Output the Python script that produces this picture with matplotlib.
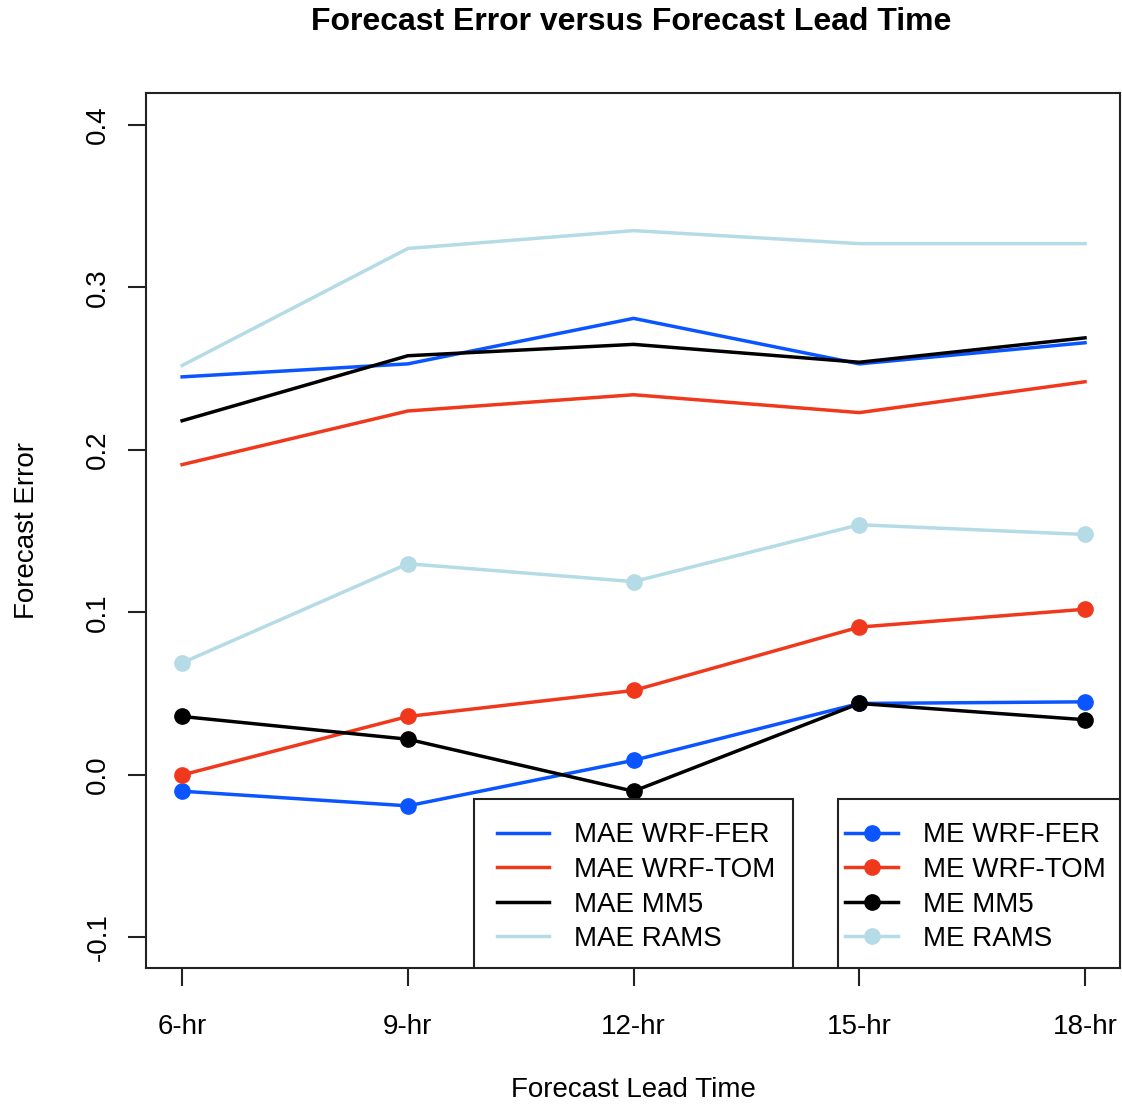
import matplotlib
matplotlib.use("Agg")
import matplotlib.pyplot as plt
from matplotlib.patches import Rectangle
import numpy as np

lead_times = ["6-hr", "9-hr", "12-hr", "15-hr", "18-hr"]
series_names = ["WRF-FER", "WRF-TOM", "MM5", "RAMS"]

mae_wrf_fer = [0.245, 0.253, 0.281, 0.253, 0.266]
mae_wrf_tom = [0.191, 0.224, 0.234, 0.223, 0.242]
mae_mm5 = [0.218, 0.258, 0.265, 0.254, 0.269]
mae_rams = [0.252, 0.324, 0.335, 0.327, 0.327]

me_wrf_fer = [-0.010, -0.019, 0.009, 0.044, 0.045]
me_wrf_tom = [0.000, 0.036, 0.052, 0.091, 0.102]
me_mm5 = [0.036, 0.022, -0.010, 0.044, 0.034]
me_rams = [0.069, 0.130, 0.119, 0.154, 0.148]

colors = ["#0a55ff", "#f0381c", "#000000", "#b4dbe6"]

plt.rcParams['font.family'] = ['Liberation Sans', 'DejaVu Sans']

W, H = 1122, 1105
fig = plt.figure(figsize=(W / 100, H / 100), dpi=100)
ax = fig.add_axes([146/W, 1-968/H, 974/W, 875/H])

x = np.arange(1, len(lead_times) + 1)
mae = [mae_wrf_fer, mae_wrf_tom, mae_mm5, mae_rams]
me = [me_wrf_fer, me_wrf_tom, me_mm5, me_rams]

mae_handles = []
for name, vals, c in zip(series_names, mae, colors):
    h, = ax.plot(x, vals, color=c, lw=2.5, label="MAE " + name)
    mae_handles.append(h)
me_handles = []
for name, vals, c in zip(series_names, me, colors):
    h, = ax.plot(x, vals, color=c, lw=2.5, marker='o', markersize=11, label="ME " + name)
    me_handles.append(h)

ax.set_xlim(0.84, 5.155)
ax.set_ylim(-0.1188, 0.4197)
ax.set_xticks(x)
ax.set_xticklabels(lead_times)
ax.set_yticks([-0.1, 0.0, 0.1, 0.2, 0.3, 0.4])
ax.set_yticklabels(["-0.1", "0.0", "0.1", "0.2", "0.3", "0.4"], rotation=90, va='center')
ax.tick_params(axis='both', labelsize=20, length=13, width=1.5, color='#222222')
ax.tick_params(axis='y', pad=12)
ax.tick_params(axis='x', pad=20)
for s in ax.spines.values():
    s.set_linewidth(1.5)
    s.set_color('#222222')

fig.text(631/W, 1-22/H, "Forecast Error versus Forecast Lead Time", fontsize=23,
         fontweight='bold', ha='center', va='center')
fig.text(633/W, 1-1090/H, "Forecast Lead Time", fontsize=20, ha='center', va='center')
fig.text(27/W, 1-530/H, "Forecast Error", fontsize=20, ha='center', va='center', rotation=90)

# legend boxes
for (bx, bw) in [(0.337, 0.327), (0.710, 0.290)]:
    ax.add_patch(Rectangle((bx, 0.0), bw, 0.193, transform=ax.transAxes, facecolor='white',
                           edgecolor='#222222', linewidth=1.5, zorder=4.5))

common = dict(loc='upper left', borderaxespad=0, fontsize=20, frameon=False,
              handlelength=1.9, handletextpad=0.88, labelspacing=0.31, borderpad=0)
leg1 = ax.legend(handles=mae_handles, bbox_to_anchor=(0.360, 0.1665), **common)
leg1.set_zorder(6)
ax.add_artist(leg1)
leg2 = ax.legend(handles=me_handles, bbox_to_anchor=(0.718, 0.1665), **common)
leg2.set_zorder(6)

fig.savefig("out.png", dpi=100, facecolor='white')
